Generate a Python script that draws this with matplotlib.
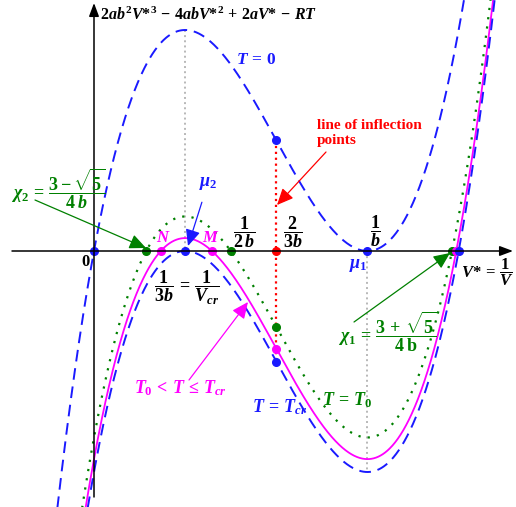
import numpy as np
import matplotlib.pyplot as plt

plt.rcParams['mathtext.fontset'] = 'custom'
plt.rcParams['mathtext.rm'] = 'Liberation Serif:bold'
plt.rcParams['mathtext.it'] = 'Liberation Serif:bold:italic'
plt.rcParams['mathtext.bf'] = 'Liberation Serif:bold'
plt.rcParams['font.family'] = ['Liberation Serif', 'DejaVu Serif']
plt.rcParams['font.weight'] = 'bold'

# f(V*) = 2ab^2 V*^3 - 4ab V*^2 + 2a V* - RT, with a = b = 1
a = 1.0
b = 1.0
rt_zero = 0.0          # T = 0
rt_cr = 8 / 27         # T = T_cr (maximum touches the axis)
rt_mid = 0.279         # T_0 < T <= T_cr
rt_t0 = 0.25           # T = T_0
v_inflection = 2 / 3   # 2/(3b)

BLUE = '#1a1aff'
GREEN = '#008000'
MAGENTA = '#ff00ff'
RED = '#ff0000'

# pixel -> data helpers (origin of the axes at pixel 94, 251)
X0, XS = 94, 273.5
Y0, YS = 251, 745.9


def P(x, y):
    return ((x - X0) / XS, (Y0 - y) / YS)


def f(v, rt):
    return 2 * a * b**2 * v**3 - 4 * a * b * v**2 + 2 * a * v - rt


def roots(rt):
    r = np.roots([2 * a * b**2, -4 * a * b, 2 * a, -rt])
    r = np.unique(np.round(r[np.abs(r.imag) < 1e-4].real, 4))
    return r


fig = plt.figure(figsize=(5.16, 5.07), dpi=100)
ax = fig.add_axes([0, 0, 1, 1])
ax.axis('off')
ax.set_xlim(-X0 / XS, (516 - X0) / XS)
ax.set_ylim(-(507 - Y0) / YS, Y0 / YS)

v = np.linspace(-0.4, 1.6, 1200)

# axes with arrows
head = '-|>,head_length=0.8,head_width=0.3'
ax.annotate('', xy=P(513, 251), xytext=P(12, 251),
            arrowprops=dict(arrowstyle=head, color='black', lw=1.1,
                            mutation_scale=10, shrinkA=0, shrinkB=0))
ax.annotate('', xy=P(94, 3), xytext=P(94, 497),
            arrowprops=dict(arrowstyle=head, color='black', lw=1.1,
                            mutation_scale=10, shrinkA=0, shrinkB=0))

# guide lines
ax.plot([1 / (3 * b)] * 2, [f(1 / (3 * b), rt_zero), 0], ls=':', color='#b8b8b8', lw=1.4)
ax.plot([1 / b] * 2, [0, f(1 / b, rt_cr)], ls=':', color='#b8b8b8', lw=1.4)
ax.plot([v_inflection] * 2, [f(v_inflection, rt_zero), f(v_inflection, rt_cr)],
        ls=':', color=RED, lw=1.6)

# curves
ax.plot(v, f(v, rt_zero), color=BLUE, lw=1.4, ls=(0, (6, 3.5)))
ax.plot(v, f(v, rt_t0), color=GREEN, lw=1.6, ls=(0, (1, 3.2)))
ax.plot(v, f(v, rt_mid), color=MAGENTA, lw=1.3)
ax.plot(v, f(v, rt_cr), color=BLUE, lw=1.4, ls=(0, (6, 3.5)))

# points on the V* axis
ms = 5.5
ax.plot(roots(rt_zero), np.zeros(len(roots(rt_zero))), 'o', color=BLUE, ms=ms)
ax.plot(roots(rt_t0), np.zeros(len(roots(rt_t0))), 'o', color=GREEN, ms=ms)
ax.plot(roots(rt_mid), np.zeros(len(roots(rt_mid))), 'o', color=MAGENTA, ms=ms)
ax.plot(roots(rt_cr), np.zeros(len(roots(rt_cr))), 'o', color=BLUE, ms=ms)
ax.plot([v_inflection], [0], 'o', color=RED, ms=ms)

# inflection points
ax.plot([v_inflection], [f(v_inflection, rt_zero)], 'o', color=BLUE, ms=ms)
ax.plot([v_inflection], [f(v_inflection, rt_t0)], 'o', color=GREEN, ms=ms)
ax.plot([v_inflection], [f(v_inflection, rt_mid)], 'o', color=MAGENTA, ms=ms)
ax.plot([v_inflection], [f(v_inflection, rt_cr)], 'o', color=BLUE, ms=ms)

# labels
ax.text(*P(100, 15), r'$2ab^2V{*}^3\,-\,4abV{*}^2\,+\,2aV{*}\,-\,RT$',
        fontsize=11.5, ha='left', va='center', color='black')
ax.text(*P(236, 60), r'$T\,=\,0$', fontsize=12.5, ha='left', va='center', color=BLUE)
ax.text(*P(86, 262), r'$0$', fontsize=12, ha='center', va='center', color='black')
ax.text(*P(244, 232), r'$\dfrac{1}{2\,b}$', fontsize=13, ha='center', va='center')
ax.text(*P(293, 232), r'$\dfrac{2}{3b}$', fontsize=13, ha='center', va='center')
ax.text(*P(376, 231), r'$\dfrac{1}{b}$', fontsize=13, ha='center', va='center')
ax.text(*P(187, 288), r'$\dfrac{1}{3b}\,=\,\dfrac{1}{V_{cr}}$', fontsize=13,
        ha='center', va='center')
ax.text(*P(358, 266), r'$\mu_1$', fontsize=13, ha='center', va='center', color=BLUE)
ax.text(*P(163, 238), r'$N$', fontsize=12, ha='center', va='center', color=MAGENTA)
ax.text(*P(211, 238), r'$M$', fontsize=12, ha='center', va='center', color=MAGENTA)
ax.text(*P(461, 272), r'$V{*}\,=\,\dfrac{1}{V}$', fontsize=12, ha='left', va='center')
ax.text(*P(11, 189), r'$\chi_2\,=\,\dfrac{3-\sqrt{5}}{4\,b}$', fontsize=13,
        ha='left', va='center', color=GREEN)
ax.text(*P(338, 332), r'$\chi_1\,=\,\dfrac{\mathrm{3\,+\,}\sqrt{\mathrm{5}}}{\mathrm{4\,b}}$',
        fontsize=13, ha='left', va='center', color=GREEN)
ax.text(*P(134, 388), r'$T_0\,<\,T\,\leq\,T_{cr}$', fontsize=13, ha='left', va='center',
        color=MAGENTA)
ax.text(*P(252, 407), r'$T\,=\,T_{cr}$', fontsize=13, ha='left', va='center', color=BLUE)
ax.text(*P(322, 400), r'$T\,=\,T_0$', fontsize=13, ha='left', va='center', color=GREEN)
ax.text(*P(317, 133), 'line of inflection\npoints', fontsize=11, ha='left',
        va='center', color=RED, fontweight='bold', linespacing=1.2)

# annotation arrows
ahead = '-|>,head_length=1.0,head_width=0.45'
ax.annotate(r'$\mu_2$', xy=P(188, 246), xytext=P(208, 183), color=BLUE, fontsize=13,
            ha='center', va='center',
            arrowprops=dict(arrowstyle=ahead, color=BLUE, lw=0.9, mutation_scale=10,
                            shrinkA=6, shrinkB=0))
ax.annotate('', xy=P(146, 248), xytext=P(35, 200),
            arrowprops=dict(arrowstyle=ahead, color=GREEN, lw=0.9, mutation_scale=10,
                            shrinkA=0, shrinkB=0))
ax.annotate('', xy=P(450, 253), xytext=P(354, 322),
            arrowprops=dict(arrowstyle=ahead, color=GREEN, lw=0.9, mutation_scale=10,
                            shrinkA=0, shrinkB=0))
ax.annotate('', xy=P(277, 205), xytext=P(326, 152),
            arrowprops=dict(arrowstyle=ahead, color=RED, lw=0.9, mutation_scale=10,
                            shrinkA=0, shrinkB=0))
ax.annotate('', xy=P(248, 302), xytext=P(189, 380),
            arrowprops=dict(arrowstyle=ahead, color=MAGENTA, lw=0.9, mutation_scale=10,
                            shrinkA=0, shrinkB=0))

fig.savefig('out.png', dpi=100)
plt.close(fig)
